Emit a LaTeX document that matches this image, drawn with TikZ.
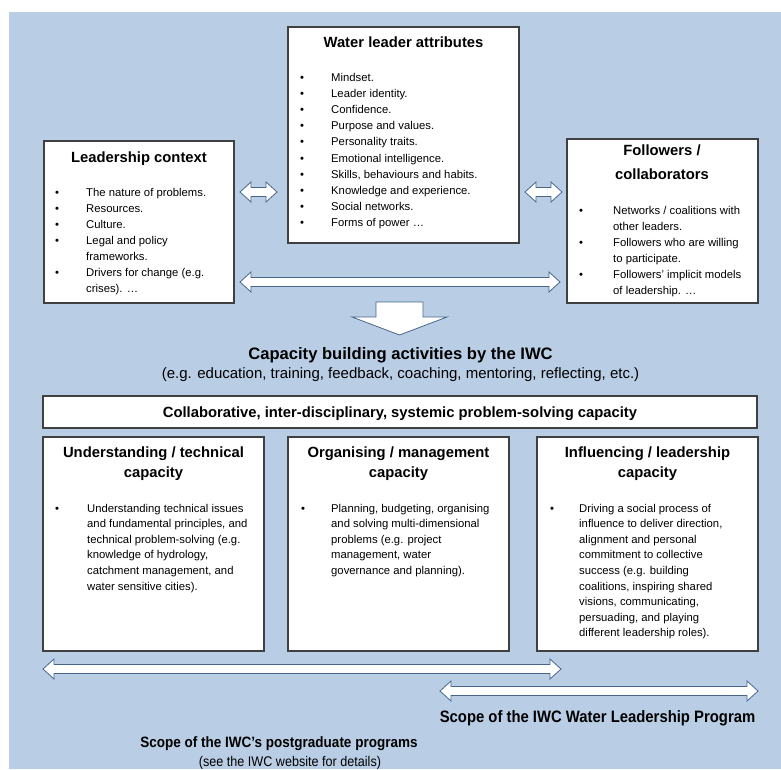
\documentclass[tikz,border=0pt]{standalone}
\usepackage{fontspec}
\setmainfont{Liberation Sans}
\newfontfamily\narrowsf[FakeStretch=0.9]{Liberation Sans}
\usepackage{xcolor}
\usepackage{tikz}
\usetikzlibrary{shapes,arrows,positioning}

\definecolor{bgblue}{RGB}{185,205,229}
\definecolor{boxline}{RGB}{64,64,64}
\definecolor{arrowline}{RGB}{72,102,140}

\tikzset{
    box/.style={line width=1.1pt, draw=boxline, fill=white},
    blockarrow/.style={line width=0.8pt, draw=arrowline, fill=white, line join=miter},
    boxtitle/.style={font=\fontsize{14.8}{19.5}\selectfont\bfseries, align=center, anchor=base, inner sep=0pt},
    bodylist/.style={font=\fontsize{11.3}{16.2}\selectfont, anchor=base west, inner sep=0pt}
}

% double block arrow: y, left tip, right tip
\newcommand{\dblarrow}[3]{%
    \draw[blockarrow] (#2,#1) -- (#2+11,#1-10) -- (#2+11,#1-4.5) -- (#3-11,#1-4.5)
        -- (#3-11,#1-10) -- (#3,#1) -- (#3-11,#1+10) -- (#3-11,#1+4.5)
        -- (#2+11,#1+4.5) -- (#2+11,#1+10) -- cycle;
}

\begin{document}
\begin{tikzpicture}[x=1pt, y=-1pt]
                \useasboundingbox (0,0) rectangle (781,769);

                \fill[bgblue] (9,12) rectangle (781,769);

                % top row
                \draw[box] (288,27) rectangle (519,243);
                \node[boxtitle] (attrtitle) at (403.5,47.5) {Water leader attributes};
                \node[bodylist] (attrlist) at (300,81) {%
                    \begin{tabular}[t]{@{}p{31pt}@{}l@{}}
                        \textbullet & Mindset.\\
                        \textbullet & Leader identity.\\
                        \textbullet & Confidence.\\
                        \textbullet & Purpose and values.\\
                        \textbullet & Personality traits.\\
                        \textbullet & Emotional intelligence.\\
                        \textbullet & Skills, behaviours and habits.\\
                        \textbullet & Knowledge and experience.\\
                        \textbullet & Social networks.\\
                        \textbullet & Forms of power …
                    \end{tabular}};

                \draw[box] (44,141) rectangle (234,303);
                \node[boxtitle] (ctxtitle) at (139,162) {Leadership context};
                \node[bodylist, font=\fontsize{11.3}{16}\selectfont] (ctxlist) at (55,196) {%
                    \begin{tabular}[t]{@{}p{31pt}@{}l@{}}
                        \textbullet & The nature of problems.\\
                        \textbullet & Resources.\\
                        \textbullet & Culture.\\
                        \textbullet & Legal and policy\\
                                    & frameworks.\\
                        \textbullet & Drivers for change (e.g.\\
                                    & crises). …
                    \end{tabular}};

                \draw[box] (567,139) rectangle (758,303);
                % two-line titles sit on their last line
                \node[boxtitle, font=\fontsize{14.8}{24}\selectfont\bfseries] (follwtitle) at (662,179) {Followers /\\collaborators};
                \node[bodylist, font=\fontsize{11.3}{16}\selectfont] (follwlist) at (579,214) {%
                    \begin{tabular}[t]{@{}p{34pt}@{}l@{}}
                        \textbullet & Networks / coalitions with\\
                                    & other leaders.\\
                        \textbullet & Followers who are willing\\
                                    & to participate.\\
                        \textbullet & Followers’ implicit models\\
                                    & of leadership. …
                    \end{tabular}};

                % links between the top boxes
                \dblarrow{192}{240}{277}
                \dblarrow{192}{525}{562}
                \dblarrow{282}{240}{560}

                \draw[blockarrow] (376,302) -- (423,302) -- (423,317) -- (447,317)
                    -- (399.5,335) -- (352,317) -- (376,317) -- cycle;

                \node[font=\fontsize{16.6}{20}\selectfont\bfseries, anchor=base, inner sep=0pt] (ibuild) at (400.5,359) {Capacity building activities by the IWC};
                \node[font=\fontsize{15}{18}\selectfont, anchor=base, inner sep=0pt] (ibuildeg) at (400.5,378) {(e.g. education, training, feedback, coaching, mentoring, reflecting, etc.)};

                % capacities
                \draw[box] (43,396) rectangle (757,428);
                \node[boxtitle] (collab) at (400,417) {Collaborative, inter-disciplinary, systemic problem-solving capacity};

                \draw[box] (43,437) rectangle (264,651);
                \node[boxtitle] (techtitle) at (153.5,477) {Understanding / technical\\capacity};
                \node[bodylist, font=\fontsize{11.3}{15.6}\selectfont] (techlist) at (55,512) {%
                    \begin{tabular}[t]{@{}p{32pt}@{}l@{}}
                        \textbullet & Understanding technical issues\\
                                    & and fundamental principles, and\\
                                    & technical problem-solving (e.g.\\
                                    & knowledge of hydrology,\\
                                    & catchment management, and\\
                                    & water sensitive cities).
                    \end{tabular}};

                \draw[box] (288,437) rectangle (509,651);
                \node[boxtitle] (mgmttitle) at (398.5,477) {Organising / management\\capacity};
                \node[bodylist, font=\fontsize{11.3}{15.6}\selectfont] (mgmtlist) at (301,512) {%
                    \begin{tabular}[t]{@{}p{30pt}@{}l@{}}
                        \textbullet & Planning, budgeting, organising\\
                                    & and solving multi-dimensional\\
                                    & problems (e.g. project\\
                                    & management, water\\
                                    & governance and planning).
                    \end{tabular}};

                \draw[box] (537,437) rectangle (758,651);
                \node[boxtitle] (leadtitle) at (647.5,477) {Influencing / leadership\\capacity};
                \node[bodylist, font=\fontsize{11.3}{15.6}\selectfont] (leadlist) at (550,512) {%
                    \begin{tabular}[t]{@{}p{29pt}@{}l@{}}
                        \textbullet & Driving a social process of\\
                                    & influence to deliver direction,\\
                                    & alignment and personal\\
                                    & commitment to collective\\
                                    & success (e.g. building\\
                                    & coalitions, inspiring shared\\
                                    & visions, communicating,\\
                                    & persuading, and playing\\
                                    & different leadership roles).
                    \end{tabular}};

                % scopes
                \dblarrow{669}{43}{561}
                \dblarrow{691}{440}{758}

                \node[font=\fontsize{16.5}{20}\selectfont\narrowsf\bfseries, anchor=base, inner sep=0pt] (wlpscope) at (597.5,722) {Scope of the IWC Water Leadership Program};
                \node[font=\fontsize{15}{18}\selectfont\narrowsf\bfseries, anchor=base, inner sep=0pt] (pgscope) at (279,747) {Scope of the IWC’s postgraduate programs};
                \node[font=\fontsize{14}{17}\selectfont\narrowsf, anchor=base, inner sep=0pt] (pgnote) at (290,766) {(see the IWC website for details)};

            \end{tikzpicture}
\end{document}
